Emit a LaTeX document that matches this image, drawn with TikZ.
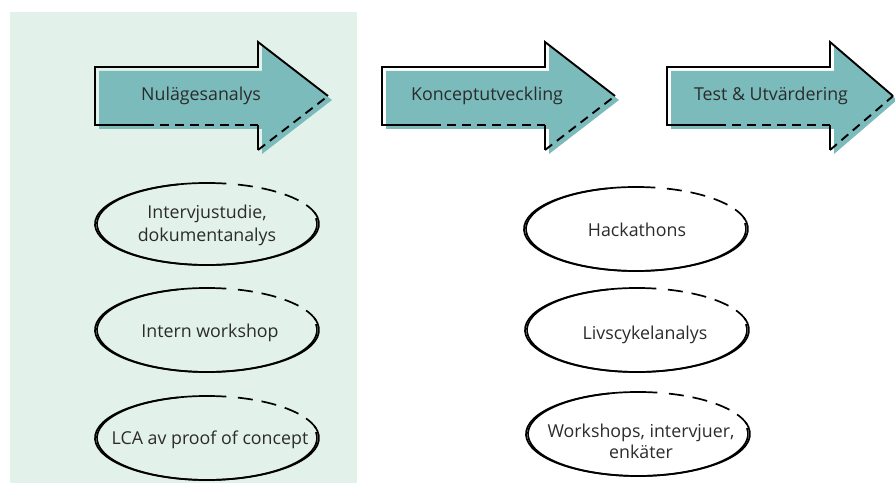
\documentclass[tikz,border=0pt]{standalone}
\usepackage{fontspec}
\setmainfont{Open Sans}
\definecolor{panelbg}{HTML}{E3F1EB}
\definecolor{arrowfill}{HTML}{7BBBBC}
\definecolor{txtgrey}{HTML}{2B2B2B}
\tikzset{
  outl/.style={draw=black,line width=1.9pt,line join=miter},
  dashpart/.style={dash pattern=on 9pt off 6pt},
  ellline/.style={draw=black,line width=1.7pt},
  elldash/.style={dash pattern=on 15pt off 9pt},
  lbl/.style={text=txtgrey,font=\fontsize{17.8}{23}\selectfont,align=center,inner sep=0pt},
}
\newcommand\stagearrow[3]{% left, head base, tip
  \fill[arrowfill,shift={(4,-4)}] (#1,360) -- (#1,418) -- (#2,418) -- (#2,443) -- (#3,389) -- (#2,335) -- (#2,360) -- cycle;
  \draw[outl] (#1+50,360) -- (#1,360) -- (#1,418) -- (#2,418) -- (#2,443) -- (#3,389);
  \draw[outl] (#2,360) -- (#2,335);
  \draw[outl,dashpart] (#1+50,360) -- (#2,360);
  \draw[outl,dashpart,line cap=butt] (#2,335) -- (#3,389);
}
\newcommand\stageellipse[3]{% cx, cy, ry
  \draw[ellline] (#1,#2) ++(80:112pt and #3pt) arc[start angle=80,end angle=376,x radius=112pt,y radius=#3pt];
  \draw[ellline] (#1,#2) ++(105:110pt and #3pt) arc[start angle=105,end angle=368,x radius=110pt,y radius=#3pt];
  \draw[ellline,elldash] (#1,#2) ++(74:112pt and #3pt) arc[start angle=74,end angle=14,x radius=112pt,y radius=#3pt];
}
\begin{document}
\begin{tikzpicture}[x=1pt,y=1pt]
\useasboundingbox (0,0) rectangle (895,485);
\fill[panelbg] (10,2) rectangle (357,473);

\stagearrow{95}{258}{328}
\stagearrow{382}{545}{615}
\stagearrow{667}{830}{893}
\node[lbl] (a1) at (201,389) {Nulägesanalys};
\node[lbl] (a2) at (487,389) {Konceptutveckling};
\node[lbl] (a3) at (771,389) {Test \& Utvärdering};

\stageellipse{207}{261}{41}
\stageellipse{207}{155}{42}
\stageellipse{207}{47}{42}
\stageellipse{636}{256}{42}
\stageellipse{637}{155}{42}
\stageellipse{638}{51}{42}

\node[lbl] (e1) at (207,260) {Intervjustudie,\\dokumentanalys};
\node[lbl] (e2) at (210,152) {Intern workshop};
\node[lbl] (e3) at (210,45) {LCA av proof of concept};
\node[lbl] (e4) at (637,255) {Hackathons};
\node[lbl] (e5) at (645,150) {Livscykelanalys};
\node[lbl,font=\fontsize{17.8}{21}\selectfont] (e6) at (641,44) {Workshops, intervjuer,\\enkäter};
\end{tikzpicture}
\end{document}
